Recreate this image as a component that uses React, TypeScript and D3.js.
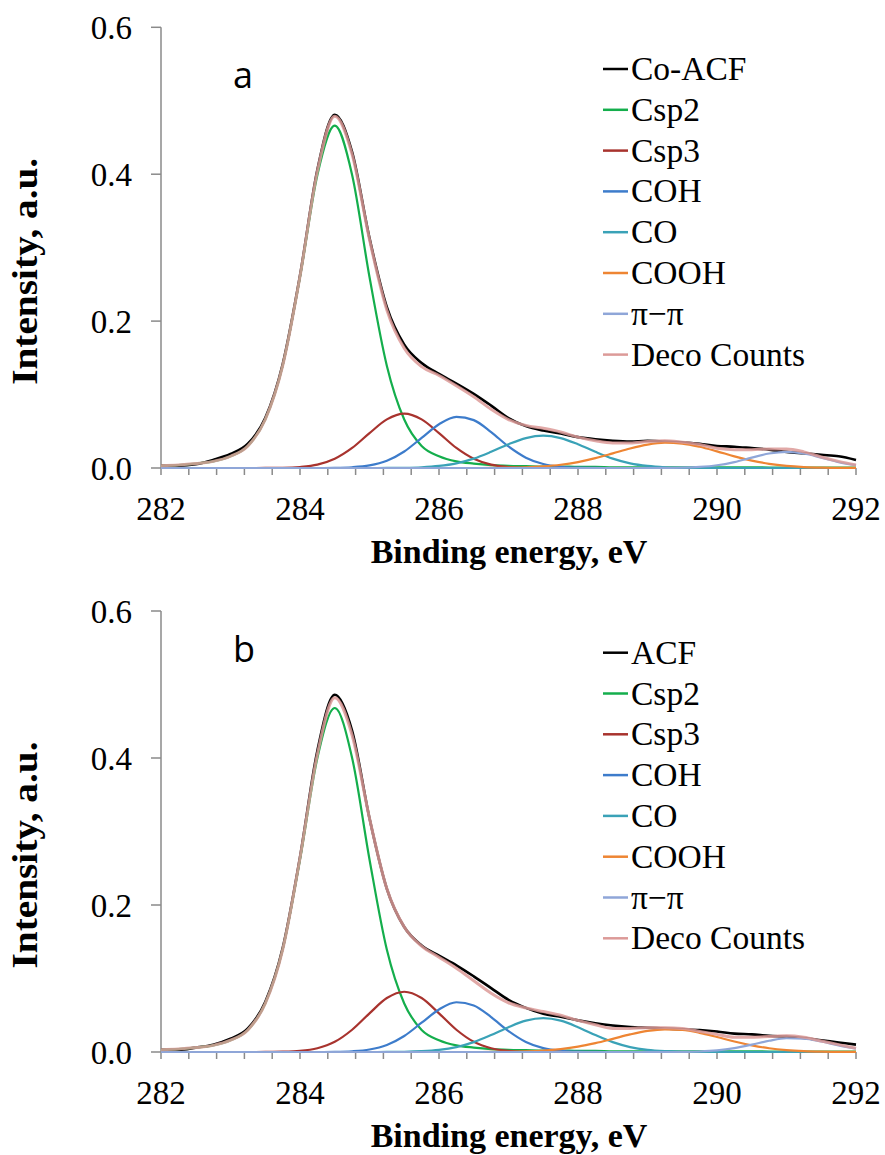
import React from 'react'
import * as d3 from 'd3'

// binding energy grid, eV
const energy = [
  282, 282.25, 282.5, 282.75, 283, 283.25, 283.5, 283.75, 284, 284.25, 284.5,
  284.75, 285, 285.25, 285.5, 285.75, 286, 286.25, 286.5, 286.75, 287,
  287.25, 287.5, 287.75, 288, 288.25, 288.5, 288.75, 289, 289.25, 289.5,
  289.75, 290, 290.25, 290.5, 290.75, 291, 291.25, 291.5, 291.75, 292,
]

// panel a (Co-ACF)
const coAcf = [
  0.003, 0.003, 0.005, 0.011, 0.019, 0.033, 0.068, 0.141, 0.262, 0.406, 0.481,
  0.43, 0.313, 0.219, 0.168, 0.143, 0.128, 0.115, 0.101, 0.085, 0.068,
  0.057, 0.051, 0.047, 0.042, 0.039, 0.037, 0.036, 0.037, 0.036, 0.035,
  0.033, 0.03, 0.029, 0.027, 0.025, 0.022, 0.02, 0.018, 0.016, 0.011,
]
const csp2A = [
  0.003, 0.004, 0.006, 0.009, 0.016, 0.03, 0.066, 0.139, 0.26, 0.399, 0.466,
  0.399, 0.26, 0.139, 0.066, 0.03, 0.016, 0.009, 0.006, 0.004, 0.003,
  0.0025, 0.002, 0.002, 0.0015, 0.0015, 0.001, 0.001, 0.001, 0.001, 0.001,
  0.001, 0.001, 0.0008, 0.0008, 0.0007, 0.0007, 0.0006, 0.0006, 0.0005, 0.0005,
]
const csp3A = [
  0, 0, 0, 0, 0, 0, 0.0001, 0.0003, 0.0014, 0.0046, 0.0126,
  0.0273, 0.0475, 0.0662, 0.074, 0.0662, 0.0475, 0.0273, 0.0126, 0.0046, 0.0014,
  0.0003, 0.0001, 0, 0, 0, 0, 0, 0, 0, 0,
  0, 0, 0, 0, 0, 0, 0, 0, 0, 0,
]
const cohA = [
  0, 0, 0, 0, 0, 0, 0, 0, 0, 0, 0.0002,
  0.001, 0.0035, 0.0099, 0.0225, 0.041, 0.0596, 0.0697, 0.0652, 0.0489, 0.0293,
  0.0141, 0.0054, 0.0017, 0.0004, 0.0001, 0, 0, 0, 0, 0,
  0, 0, 0, 0, 0, 0, 0, 0, 0, 0,
]
const coA = [
  0, 0, 0, 0, 0, 0, 0, 0, 0, 0, 0,
  0, 0, 0.0001, 0.0003, 0.001, 0.0028, 0.0064, 0.0128, 0.022, 0.0323,
  0.0407, 0.044, 0.0407, 0.0323, 0.022, 0.0128, 0.0064, 0.0028, 0.001, 0.0003,
  0.0001, 0, 0, 0, 0, 0, 0, 0, 0, 0,
]
const coohA = [
  0, 0, 0, 0, 0, 0, 0, 0, 0, 0, 0,
  0, 0, 0, 0, 0, 0, 0, 0, 0.0001, 0.0004,
  0.0009, 0.0022, 0.0044, 0.0081, 0.0134, 0.0199, 0.0266, 0.0319, 0.0344, 0.0333,
  0.029, 0.0227, 0.0159, 0.0101, 0.0057, 0.0029, 0.0013, 0.0005, 0.0002, 0.0001,
]
const piA = [
  0, 0, 0, 0, 0, 0, 0, 0, 0, 0, 0,
  0, 0, 0, 0, 0, 0, 0, 0, 0, 0,
  0, 0, 0, 0, 0, 0, 0, 0, 0.0001, 0.0004,
  0.0014, 0.0037, 0.0081, 0.0141, 0.0197, 0.022, 0.0197, 0.0141, 0.0081, 0.0037,
]
const decoA = [
  0.003, 0.004, 0.006, 0.009, 0.016, 0.03, 0.066, 0.139, 0.261, 0.404, 0.479,
  0.427, 0.311, 0.215, 0.163, 0.138, 0.126, 0.112, 0.097, 0.08, 0.066,
  0.058, 0.054, 0.049, 0.042, 0.037, 0.034, 0.034, 0.036, 0.037, 0.035,
  0.032, 0.027, 0.025, 0.025, 0.026, 0.026, 0.022, 0.015, 0.009, 0.004,
]

// panel b (ACF)
const acf = [
  0.003, 0.003, 0.006, 0.01, 0.018, 0.032, 0.068, 0.141, 0.265, 0.41, 0.486,
  0.437, 0.318, 0.222, 0.17, 0.145, 0.131, 0.118, 0.103, 0.087, 0.071,
  0.06, 0.052, 0.048, 0.043, 0.039, 0.036, 0.034, 0.033, 0.032, 0.031,
  0.03, 0.028, 0.025, 0.024, 0.022, 0.021, 0.019, 0.016, 0.013, 0.01,
]
const csp2B = [
  0.003, 0.004, 0.006, 0.009, 0.016, 0.03, 0.066, 0.139, 0.262, 0.4, 0.468,
  0.4, 0.262, 0.139, 0.066, 0.03, 0.016, 0.009, 0.006, 0.004, 0.003,
  0.0025, 0.002, 0.002, 0.0015, 0.0015, 0.001, 0.001, 0.001, 0.001, 0.001,
  0.001, 0.001, 0.0008, 0.0008, 0.0007, 0.0007, 0.0006, 0.0006, 0.0005, 0.0005,
]
const csp3B = [
  0, 0, 0, 0, 0, 0, 0.0001, 0.0004, 0.0015, 0.0051, 0.0139,
  0.0303, 0.0526, 0.0734, 0.082, 0.0734, 0.0526, 0.0303, 0.0139, 0.0051, 0.0015,
  0.0004, 0.0001, 0, 0, 0, 0, 0, 0, 0, 0,
  0, 0, 0, 0, 0, 0, 0, 0, 0, 0,
]
const cohB = [
  0, 0, 0, 0, 0, 0, 0, 0, 0, 0, 0.0002,
  0.001, 0.0034, 0.0096, 0.0218, 0.0398, 0.0579, 0.0677, 0.0633, 0.0475, 0.0285,
  0.0137, 0.0053, 0.0016, 0.0004, 0.0001, 0, 0, 0, 0, 0,
  0, 0, 0, 0, 0, 0, 0, 0, 0, 0,
]
const coB = [
  0, 0, 0, 0, 0, 0, 0, 0, 0, 0, 0,
  0, 0, 0.0001, 0.0003, 0.0011, 0.0029, 0.0067, 0.0134, 0.023, 0.0338,
  0.0426, 0.046, 0.0426, 0.0338, 0.023, 0.0134, 0.0067, 0.0029, 0.0011, 0.0003,
  0.0001, 0, 0, 0, 0, 0, 0, 0, 0, 0,
]
const coohB = [
  0, 0, 0, 0, 0, 0, 0, 0, 0, 0, 0,
  0, 0, 0, 0, 0, 0, 0, 0, 0.0001, 0.0003,
  0.0008, 0.0019, 0.004, 0.0073, 0.0121, 0.0179, 0.0239, 0.0287, 0.0309, 0.03,
  0.0261, 0.0204, 0.0143, 0.0091, 0.0051, 0.0026, 0.0012, 0.0005, 0.0002, 0.0001,
]
const piB = [
  0, 0, 0, 0, 0, 0, 0, 0, 0, 0, 0,
  0, 0, 0, 0, 0, 0, 0, 0, 0, 0,
  0, 0, 0, 0, 0, 0, 0, 0, 0, 0.0002,
  0.0007, 0.0022, 0.0053, 0.01, 0.0153, 0.0187, 0.0183, 0.0143, 0.009, 0.0045,
]
const decoB = [
  0.003, 0.004, 0.006, 0.009, 0.016, 0.03, 0.066, 0.139, 0.264, 0.405, 0.482,
  0.431, 0.318, 0.222, 0.17, 0.144, 0.129, 0.114, 0.097, 0.08, 0.067,
  0.06, 0.055, 0.05, 0.043, 0.037, 0.032, 0.032, 0.033, 0.033, 0.032,
  0.028, 0.024, 0.02, 0.02, 0.021, 0.022, 0.02, 0.015, 0.01, 0.005,
]

const componentNames = ['Csp2', 'Csp3', 'COH', 'CO', 'COOH', 'π−π', 'Deco Counts']
const colors = ['#000000', '#14AE4C', '#A8332E', '#3D7CCB', '#3AA2B7', '#EE8533', '#8FA6D8', '#DC9A98']
const yTicks = [0, 0.2, 0.4, 0.6]
const xTickLabels = [282, 284, 286, 288, 290, 292]

const serif = 'Liberation Serif'

const panels = [
  { letter: 'a', letterY: 88, sample: 'Co-ACF', series: [coAcf, csp2A, csp3A, cohA, coA, coohA, piA, decoA], top: 27.3, bottom: 468 },
  { letter: 'b', letterY: 662, sample: 'ACF', series: [acf, csp2B, csp3B, cohB, coB, coohB, piB, decoB], top: 611, bottom: 1052 },
]

const x = d3.scaleLinear().domain([282, 292]).range([161, 856])

const Panel = ({ p }) => {
  const y = d3.scaleLinear().domain([0, 0.6]).range([p.bottom, p.top])
  const line = d3
    .line<number>()
    .x((_, i) => x(energy[i]))
    .y((d) => y(d))
    .curve(d3.curveMonotoneX)
  const minorTicks = d3.range(0, 26).map((i) => 282 + i * 0.4)
  const labels = [p.sample, ...componentNames]
  const legendTop = p.top + 52.7

  return (
    <g>
      {/* axes */}
      <line x1={x(282)} x2={x(282)} y1={y(0.6)} y2={y(0)} stroke="#8a8a8a" strokeWidth={1.5} />
      <line x1={x(282)} x2={x(292)} y1={y(0)} y2={y(0)} stroke="#8a8a8a" strokeWidth={1.5} />
      {yTicks.map((t) => (
        <g key={t}>
          <line x1={x(282) - 10} x2={x(282)} y1={y(t)} y2={y(t)} stroke="#8a8a8a" strokeWidth={1.5} />
          <text x={132} y={y(t)} dy="0.35em" textAnchor="end" style={{ fontFamily: serif, fontSize: 33 }}>
            {t.toFixed(1)}
          </text>
        </g>
      ))}
      {minorTicks.map((t) => (
        <line key={t} x1={x(t)} x2={x(t)} y1={y(0)} y2={y(0) + 7} stroke="#8a8a8a" strokeWidth={1.5} />
      ))}
      {xTickLabels.map((t) => (
        <text key={t} x={x(t)} y={p.bottom + 52} textAnchor="middle" style={{ fontFamily: serif, fontSize: 33 }}>
          {t}
        </text>
      ))}
      <text x={509} y={p.bottom + 95} textAnchor="middle" style={{ fontFamily: serif, fontSize: 34, fontWeight: 'bold' }}>
        Binding energy, eV
      </text>
      <text
        transform={`translate(37, ${p.top + 244}) rotate(-90)`}
        textAnchor="middle"
        style={{ fontFamily: serif, fontSize: 36, fontWeight: 'bold' }}
        textLength={227}
        lengthAdjust="spacingAndGlyphs"
      >
        Intensity, a.u.
      </text>
      <text x={233} y={p.letterY} style={{ fontFamily: 'Open Sans', fontSize: 36 }}>
        {p.letter}
      </text>

      {/* curves */}
      {p.series.map((s, i) => (
        <path
          key={i}
          d={line(s)}
          fill="none"
          stroke={colors[i]}
          strokeWidth={i === 0 ? 2.6 : i === 7 ? 3 : 2.2}
          strokeOpacity={i === 7 ? 0.85 : 1}
          strokeLinejoin="round"
        />
      ))}

      {/* legend */}
      {labels.map((name, i) => (
        <g key={name} transform={`translate(0, ${legendTop + i * 40.8})`}>
          <line x1={603} x2={628} y1={-11} y2={-11} stroke={colors[i]} strokeWidth={2.5} />
          <text x={631} y={0} style={{ fontFamily: serif, fontSize: 33.5 }}>
            {name}
          </text>
        </g>
      ))}
    </g>
  )
}

export default function App() {
  return (
    <svg
      width={885}
      height={1155}
      style={{ position: 'absolute', left: 0, top: 0, background: '#fff', fontFamily: serif }}
    >
      <rect width={885} height={1155} fill="#fff" />
      {panels.map((p) => (
        <Panel key={p.letter} p={p} />
      ))}
    </svg>
  )
}
